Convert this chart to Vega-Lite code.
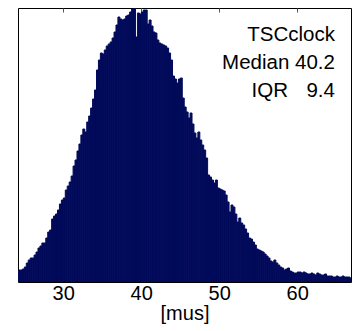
{
  "$schema": "https://vega.github.io/schema/vega-lite/v6.json",
  "width": 333,
  "height": 274,
  "autosize": {"type": "none"},
  "padding": {"left": 18, "top": 8, "right": 6, "bottom": 49},
  "background": "white",
  "config": {
    "view": {"stroke": "black", "strokeWidth": 1},
    "font": "Liberation Sans"
  },
  "datasets": {
    "hist": [
      {"x":24.325,"c":12},{"x":24.575,"c":12},{"x":24.825,"c":13},{"x":25.075,"c":15},{"x":25.325,"c":19},
      {"x":25.575,"c":22},{"x":25.825,"c":24},{"x":26.075,"c":24},{"x":26.325,"c":27},{"x":26.575,"c":30},
      {"x":26.825,"c":34},{"x":27.075,"c":36},{"x":27.325,"c":39},{"x":27.575,"c":39},{"x":27.825,"c":44},
      {"x":28.075,"c":50},{"x":28.325,"c":52},{"x":28.575,"c":63},{"x":28.825,"c":66},{"x":29.075,"c":68},
      {"x":29.325,"c":72},{"x":29.575,"c":78},{"x":29.825,"c":82},{"x":30.075,"c":84},{"x":30.325,"c":92},
      {"x":30.575,"c":96},{"x":30.825,"c":100},{"x":31.075,"c":106},{"x":31.325,"c":116},{"x":31.575,"c":122},
      {"x":31.825,"c":131},{"x":32.075,"c":138},{"x":32.325,"c":147},{"x":32.575,"c":153},{"x":32.825,"c":150},
      {"x":33.075,"c":160},{"x":33.325,"c":166},{"x":33.575,"c":174},{"x":33.825,"c":183},{"x":34.075,"c":192},
      {"x":34.325,"c":212},{"x":34.575,"c":222},{"x":34.825,"c":229},{"x":35.075,"c":228},{"x":35.325,"c":232},
      {"x":35.575,"c":236},{"x":35.825,"c":238},{"x":36.075,"c":240},{"x":36.325,"c":244},{"x":36.575,"c":250},
      {"x":36.825,"c":257},{"x":37.075,"c":265},{"x":37.325,"c":263},{"x":37.575,"c":262},{"x":37.825,"c":263},
      {"x":38.075,"c":266},{"x":38.325,"c":267},{"x":38.575,"c":270},{"x":38.825,"c":273},{"x":39.075,"c":274},
      {"x":39.325,"c":245},{"x":39.575,"c":269},{"x":39.825,"c":268},{"x":40.075,"c":270},{"x":40.325,"c":272},
      {"x":40.575,"c":272},{"x":40.825,"c":258},{"x":41.075,"c":262},{"x":41.325,"c":256},{"x":41.575,"c":250},
      {"x":41.825,"c":249},{"x":42.075,"c":242},{"x":42.325,"c":239},{"x":42.575,"c":238},{"x":42.825,"c":237},
      {"x":43.075,"c":236},{"x":43.325,"c":234},{"x":43.575,"c":229},{"x":43.825,"c":222},{"x":44.075,"c":206},
      {"x":44.325,"c":203},{"x":44.575,"c":199},{"x":44.825,"c":203},{"x":45.075,"c":204},{"x":45.325,"c":184},
      {"x":45.575,"c":175},{"x":45.825,"c":170},{"x":46.075,"c":164},{"x":46.325,"c":169},{"x":46.575,"c":158},
      {"x":46.825,"c":149},{"x":47.075,"c":144},{"x":47.325,"c":150},{"x":47.575,"c":142},{"x":47.825,"c":137},
      {"x":48.075,"c":132},{"x":48.325,"c":124},{"x":48.575,"c":107},{"x":48.825,"c":105},{"x":49.075,"c":102},
      {"x":49.325,"c":99},{"x":49.575,"c":102},{"x":49.825,"c":94},{"x":50.075,"c":93},{"x":50.325,"c":92},
      {"x":50.575,"c":91},{"x":50.825,"c":87},{"x":51.075,"c":80},{"x":51.325,"c":70},{"x":51.575,"c":77},
      {"x":51.825,"c":75},{"x":52.075,"c":68},{"x":52.325,"c":60},{"x":52.575,"c":64},{"x":52.825,"c":59},
      {"x":53.075,"c":57},{"x":53.325,"c":53},{"x":53.575,"c":49},{"x":53.825,"c":44},{"x":54.075,"c":43},
      {"x":54.325,"c":40},{"x":54.575,"c":37},{"x":54.825,"c":33},{"x":55.075,"c":32},{"x":55.325,"c":31},
      {"x":55.575,"c":30},{"x":55.825,"c":28},{"x":56.075,"c":26},{"x":56.325,"c":24},{"x":56.575,"c":21},
      {"x":56.825,"c":20},{"x":57.075,"c":22},{"x":57.325,"c":19},{"x":57.575,"c":17},{"x":57.825,"c":15},
      {"x":58.075,"c":14},{"x":58.325,"c":12},{"x":58.575,"c":13},{"x":58.825,"c":14},{"x":59.075,"c":11},
      {"x":59.325,"c":10},{"x":59.575,"c":9},{"x":59.825,"c":9},{"x":60.075,"c":10},{"x":60.325,"c":10},
      {"x":60.575,"c":9},{"x":60.825,"c":10},{"x":61.075,"c":9},{"x":61.325,"c":8},{"x":61.575,"c":8},
      {"x":61.825,"c":9},{"x":62.075,"c":8},{"x":62.325,"c":7},{"x":62.575,"c":9},{"x":62.825,"c":8},
      {"x":63.075,"c":7},{"x":63.325,"c":7},{"x":63.575,"c":8},{"x":63.825,"c":6},{"x":64.075,"c":6},
      {"x":64.325,"c":6},{"x":64.575,"c":5},{"x":64.825,"c":5},{"x":65.075,"c":6},{"x":65.325,"c":5},
      {"x":65.575,"c":5},{"x":65.825,"c":6},{"x":66.075,"c":5},{"x":66.325,"c":5},{"x":66.575,"c":5},
      {"x":66.825,"c":4}
    ],
    "notes": [
      {"t":"TSCclock","x":64.84,"y":247},
      {"t":"Median 40.2","x":64.84,"y":219},
      {"t":"IQR","x":58.82,"y":191},
      {"t":"9.4","x":64.84,"y":191}
    ]
  },
  "layer": [
    {
      "data": {"name": "hist"},
      "mark": {"type": "bar", "color": "#020a5a", "stroke": "#020a5a", "strokeWidth": 1, "binSpacing": 0, "clip": true},
      "encoding": {
        "x": {
          "field": "x", "type": "quantitative",
          "bin": {"step": 0.25, "anchor": 24.2, "extent": [24.2, 67]},
          "scale": {"domain": [24.2, 66.9], "nice": false, "zero": false},
          "axis": {
            "orient": "bottom", "values": [30, 40, 50, 60], "title": "[mus]",
            "format": "d", "domain": false, "ticks": false,
            "labelFontSize": 20, "labelColor": "black", "labelPadding": 1,
            "labelFont": "Liberation Sans", "labelFlush": false,
            "titleFontSize": 20, "titleFontWeight": "normal", "titleColor": "black",
            "titleFont": "Liberation Sans", "titlePadding": 0, "grid": false
          }
        },
        "y": {
          "aggregate": "sum", "field": "c", "type": "quantitative",
          "scale": {"domain": [0, 274], "nice": false},
          "axis": null
        }
      }
    },
    {
      "data": {"name": "notes"},
      "mark": {"type": "text", "align": "right", "baseline": "middle", "fontSize": 20.5, "font": "Liberation Sans", "color": "black"},
      "encoding": {
        "x": {
          "field": "x", "type": "quantitative",
          "scale": {"domain": [24.2, 66.9], "nice": false, "zero": false},
          "axis": {
            "orient": "top", "values": [30, 40, 50, 60], "labels": false, "title": null,
            "domain": false, "ticks": true, "tickSize": -4, "tickColor": "#555555", "grid": false
          }
        },
        "y": {"field": "y", "type": "quantitative", "scale": {"domain": [0, 274], "nice": false}, "axis": null},
        "text": {"field": "t"}
      }
    }
  ],
  "resolve": {"axis": {"x": "independent"}}
}
